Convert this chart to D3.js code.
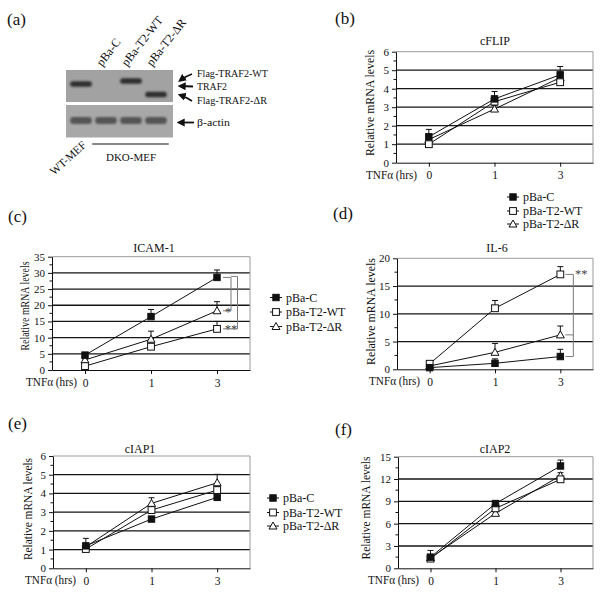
<!DOCTYPE html>
<html><head><meta charset="utf-8">
<script src="https://cdn.jsdelivr.net/npm/d3@7"></script>
<style>
body{margin:0;background:#fff}
svg{display:block}
text{font-family:"Liberation Serif","Times New Roman",serif}
</style>
</head><body>
<svg id="fig" width="604" height="599"></svg>
<script>
// ---------------- DATA ----------------
const times = ["0", "1", "3"];
const seriesNames = ["pBa-C", "pBa-T2-WT", "pBa-T2-ΔR"];
const markerTypes = ["filledSquare", "openSquare", "openTriangle"];

// (b) cFLIP
const cflipC  = [1.4, 3.45, 4.75];
const cflipWT = [1.0, 3.3, 4.35];
const cflipDR = [1.25, 2.9, 4.6];
const cflipErrC  = [0.4, 0.4, 0.45];
const cflipErrWT = [0.1, 0.2, 0.15];
const cflipErrDR = [0.15, 0.2, 0.2];

// (c) ICAM-1
const icamC  = [4.6, 16.5, 28.6];
const icamWT = [1.2, 7.2, 12.7];
const icamDR = [3.1, 9.5, 18.3];
const icamErrC  = [0.5, 2.2, 2.3];
const icamErrWT = [0.3, 0.4, 2.3];
const icamErrDR = [0.3, 2.5, 2.8];

// (d) IL-6
const il6C  = [0.3, 1.08, 2.3];
const il6WT = [1.0, 11.0, 17.1];
const il6DR = [0.6, 3.06, 6.2];
const il6ErrC  = [0.1, 0.8, 1.3];
const il6ErrWT = [0.2, 1.4, 1.4];
const il6ErrDR = [0.1, 1.6, 1.6];

// (e) cIAP1
const ciap1C  = [1.2, 2.63, 3.79];
const ciap1WT = [1.03, 3.11, 4.18];
const ciap1DR = [1.15, 3.47, 4.57];
const ciap1ErrC  = [0.4, 0.08, 0.08];
const ciap1ErrWT = [0.1, 0.3, 0.2];
const ciap1ErrDR = [0.15, 0.3, 0.45];

// (f) cIAP2
const ciap2C  = [1.5, 8.7, 13.75];
const ciap2WT = [1.3, 8.06, 11.96];
const ciap2DR = [1.4, 7.39, 12.45];
const ciap2ErrC  = [0.9, 0.3, 0.8];
const ciap2ErrWT = [0.3, 0.3, 0.3];
const ciap2ErrDR = [0.3, 0.3, 0.4];

// significance brackets (series index pairs at 3 h)
const icamSig = [{from: 0, to: 2, label: "*"}, {from: 0, to: 1, label: "**"}];
const il6Sig  = [{from: 1, to: 0, mid: 2, label: "**"}];

// (a) western blot
const blotLanes = ["WT-MEF", "pBa-C", "pBa-T2-WT", "pBa-T2-ΔR"];
const blotTraf2 = ["TRAF2", null, "Flag-TRAF2-WT", "Flag-TRAF2-ΔR"];
const blotActin = ["β-actin", "β-actin", "β-actin", "β-actin"];
const blotLabels = ["Flag-TRAF2-WT", "TRAF2", "Flag-TRAF2-ΔR", "β-actin"];
const dkoLanes = ["pBa-C", "pBa-T2-WT", "pBa-T2-ΔR"];

// ---------------- DRAW ----------------
const SERIF = '"Liberation Serif","Times New Roman",serif';
const svg = d3.select("#fig");
const defs = svg.append("defs");
defs.append("filter").attr("id", "blur").attr("x", "-30%").attr("y", "-80%").attr("width", "160%").attr("height", "260%")
  .append("feGaussianBlur").attr("stdDeviation", 1.1);
defs.append("marker").attr("id", "ah").attr("viewBox", "0 0 10 10").attr("refX", 7).attr("refY", 5)
  .attr("markerWidth", 4.5).attr("markerHeight", 4.5).attr("orient", "auto")
  .append("path").attr("d", "M0,0L10,5L0,10z").attr("fill", "#111");

function T(sel) { return sel.style("font-family", SERIF).style("fill", "#111"); }

function panelLabel(txt, x, y) {
  T(svg.append("text").attr("x", x).attr("y", y).attr("font-size", 17)).text(txt);
}

function drawMarker(g, type, cx, cy) {
  if (type === "filledSquare") {
    g.append("rect").attr("x", cx - 3.2).attr("y", cy - 3.2).attr("width", 6.4).attr("height", 6.4)
      .attr("fill", "#111").attr("stroke", "#111");
  } else if (type === "openSquare") {
    g.append("rect").attr("x", cx - 3.4).attr("y", cy - 3.4).attr("width", 6.8).attr("height", 6.8)
      .attr("fill", "#fff").attr("stroke", "#111").attr("stroke-width", 1);
  } else {
    g.append("path").attr("d", `M${cx},${cy - 4}L${cx + 4},${cy + 3}L${cx - 4},${cy + 3}Z`)
      .attr("fill", "#fff").attr("stroke", "#111").attr("stroke-width", 1);
  }
}

function drawLegend(lx, ys, fs) {
  const g = svg.append("g");
  seriesNames.forEach((name, i) => {
    g.append("line").attr("x1", lx).attr("x2", lx + 12).attr("y1", ys[i]).attr("y2", ys[i])
      .attr("stroke", "#111").attr("stroke-width", 1);
    drawMarker(g, markerTypes[i], lx + 6, ys[i]);
    T(g.append("text").attr("x", lx + 16).attr("y", ys[i]).attr("dy", "0.35em")
      .attr("font-size", fs)).text(name);
  });
}

function drawPanel(p) {
  const g = svg.append("g");
  const x = d3.scalePoint().domain(times).range([p.left, p.right]).padding(0.5);
  const y = d3.scaleLinear().domain([0, p.ymax]).range([p.bottom, p.top]);
  const ticks = d3.range(0, p.ymax + p.step / 2, p.step);

  g.selectAll(".grid").data(ticks.filter(t => t > 0 && t < p.ymax)).join("line")
    .attr("x1", p.left).attr("x2", p.right)
    .attr("y1", d => y(d)).attr("y2", d => y(d))
    .attr("stroke", "#151515").attr("stroke-width", 1.3);
  g.append("path").attr("d", `M${p.left},${y(p.ymax)}H${p.right}V${p.bottom}`)
    .attr("fill", "none").attr("stroke", "#9a9a9a").attr("stroke-width", 1);

  g.selectAll(".minor").data(d3.range(p.step / 2, p.ymax, p.step)).join("line")
    .attr("x1", p.left - 2.5).attr("x2", p.left).attr("y1", d => y(d)).attr("y2", d => y(d))
    .attr("stroke", "#111");

  const ya = g.append("g").attr("transform", `translate(${p.left},0)`)
    .call(d3.axisLeft(y).tickValues(ticks).tickSize(4).tickSizeOuter(0).tickFormat(d3.format("d")));
  ya.select(".domain").attr("stroke", "#111");
  ya.selectAll(".tick line").attr("stroke", "#111");
  T(ya.selectAll("text").attr("font-size", 11));

  const xa = g.append("g").attr("transform", `translate(0,${p.bottom})`)
    .call(d3.axisBottom(x).tickSize(4).tickSizeOuter(0));
  xa.select(".domain").attr("stroke", "#111");
  xa.selectAll(".tick line").attr("stroke", "#111");
  T(xa.selectAll("text").attr("font-size", 11.5).attr("dy", "0.85em"));

  T(g.append("text").attr("x", p.tnfX).attr("y", p.bottom + 16).attr("font-size", 11.5)
    .attr("textLength", 51).attr("lengthAdjust", "spacingAndGlyphs")).text("TNFα (hrs)");

  T(g.append("text").attr("transform", `translate(${p.ylabX},${p.ylabY}) rotate(-90)`)
    .attr("text-anchor", "middle").attr("font-size", 12.5)
    .attr("textLength", p.ylabLen).attr("lengthAdjust", "spacingAndGlyphs"))
    .text("Relative mRNA levels");

  T(g.append("text").attr("x", p.titleX).attr("y", p.titleY).attr("text-anchor", "middle")
    .attr("font-size", 12)).text(p.title);

  const line = d3.line().x((d, i) => x(times[i])).y(d => y(d));
  p.series.forEach(s => {
    g.append("path").attr("d", line(s)).attr("fill", "none").attr("stroke", "#111").attr("stroke-width", 1);
  });
  p.series.forEach((s, k) => {
    s.forEach((v, i) => {
      const cx = x(times[i]), top = y(v + p.errors[k][i]);
      g.append("line").attr("x1", cx).attr("x2", cx).attr("y1", y(v)).attr("y2", top).attr("stroke", "#111");
      g.append("line").attr("x1", cx - 3).attr("x2", cx + 3).attr("y1", top).attr("y2", top).attr("stroke", "#111");
    });
  });
  [2, 1, 0].forEach(k => {
    p.series[k].forEach((v, i) => drawMarker(g, markerTypes[k], x(times[i]), y(v)));
  });
  return {x, y, g};
}

// ---- panel (a) : western blot ----
panelLabel("(a)", 7, 25);
{
  const g = svg.append("g");
  const lx = d3.scaleBand().domain(blotLanes).range([69, 168]).paddingInner(0.14).paddingOuter(0.05);
  const bandY = d3.scaleOrdinal().domain(blotLabels).range([81, 84, 94.5, 120.5]);
  g.append("rect").attr("x", 66).attr("y", 70).attr("width", 107).attr("height", 32).attr("fill", "#a2a2a2");
  g.append("rect").attr("x", 66).attr("y", 105).attr("width", 107).attr("height", 32.5).attr("fill", "#a8a8a8");
  blotLanes.forEach((lane, i) => {
    if (blotTraf2[i]) {
      g.append("rect").attr("x", lx(lane)).attr("y", bandY(blotTraf2[i]) - 2.8)
        .attr("width", lx.bandwidth()).attr("height", 5.6).attr("rx", 2.5)
        .attr("fill", "#2e2e2e").attr("filter", "url(#blur)");
    }
    g.append("rect").attr("x", lx(lane)).attr("y", bandY(blotActin[i]) - 3.4)
      .attr("width", lx.bandwidth()).attr("height", 6.8).attr("rx", 3)
      .attr("fill", "#555").attr("filter", "url(#blur)");
  });
  dkoLanes.forEach(lane => {
    const cx = lx(lane) + lx.bandwidth() / 2;
    T(g.append("text").attr("transform", `translate(${cx - 4},${67}) rotate(-52)`)
      .attr("font-size", 12)).text(lane);
  });
  T(g.append("text").attr("transform", `translate(${lx("WT-MEF") + lx.bandwidth() / 2 + 6},${146}) rotate(-42)`)
    .attr("text-anchor", "end").attr("font-size", 11.5)).text("WT-MEF");
  const dx0 = lx("pBa-C"), dx1 = lx("pBa-T2-ΔR") + lx.bandwidth();
  g.append("line").attr("x1", dx0 - 3).attr("x2", dx1 + 2).attr("y1", 144).attr("y2", 144).attr("stroke", "#111");
  T(g.append("text").attr("x", (dx0 + dx1) / 2).attr("y", 160.5).attr("text-anchor", "middle")
    .attr("font-size", 11)).text("DKO-MEF");
  const labY = [77, 90, 103.5, 126];
  const labLen = [71, 30, 70, 33];
  blotLabels.forEach((t, i) => {
    T(g.append("text").attr("x", 197).attr("y", labY[i]).attr("font-size", 11)
      .attr("textLength", labLen[i]).attr("lengthAdjust", "spacingAndGlyphs")).text(t);
  });
  const arrows = [
    "M192,74 Q186,76 180,80.5",
    "M193,86.5 L180,86",
    "M192,101 Q186,97 180,95",
    "M194,122.5 L179,122.5"
  ];
  arrows.forEach(d => g.append("path").attr("d", d).attr("fill", "none").attr("stroke", "#111")
    .attr("stroke-width", 1.8).attr("marker-end", "url(#ah)"));
}

// ---- panel (b) cFLIP ----
panelLabel("(b)", 335, 24);
drawPanel({title: "cFLIP", titleX: 495, titleY: 45, left: 396, right: 593, top: 51.7, bottom: 162.7,
  ymax: 6, step: 1, tnfX: 366, ylabX: 374, ylabY: 103, ylabLen: 106,
  series: [cflipC, cflipWT, cflipDR], errors: [cflipErrC, cflipErrWT, cflipErrDR]});
drawLegend(507, [197, 211, 224], 12);

// ---- panel (c) ICAM-1 ----
panelLabel("(c)", 8, 222);
const pc = drawPanel({title: "ICAM-1", titleX: 154, titleY: 251.5, left: 52, right: 250, top: 256.7, bottom: 370,
  ymax: 35, step: 5, tnfX: 26, ylabX: 29, ylabY: 306, ylabLen: 89,
  series: [icamC, icamWT, icamDR], errors: [icamErrC, icamErrWT, icamErrDR]});
drawLegend(270, [297.5, 312, 326.5], 12);
{
  const vals = [icamC[2], icamWT[2], icamDR[2]];
  const x3 = pc.x("3");
  const xs = [x3 + 6, x3 + 14, x3 + 20.5];
  icamSig.forEach((s, i) => {
    const xv = xs[i + 1];
    const y1 = pc.y(vals[s.from]) - i, y2 = pc.y(vals[s.to]);
    pc.g.append("path").attr("d", `M${xs[0] + (i ? 8 : 0)},${y1}H${xv}V${y2}H${xs[0]}`)
      .attr("fill", "none").attr("stroke", "#7a7a7a").attr("stroke-width", 1);
    pc.g.append("text").attr("x", i ? x3 + 14 : x3 + 11).attr("y", y2 + (i ? 4 : 5)).attr("text-anchor", "middle")
      .attr("font-size", 12.5).style("font-family", SERIF).style("fill", "#444").text(s.label);
  });
}

// ---- panel (d) IL-6 ----
panelLabel("(d)", 333, 219);
const pd = drawPanel({title: "IL-6", titleX: 497, titleY: 252, left: 397, right: 593, top: 258.3, bottom: 369.3,
  ymax: 20, step: 5, tnfX: 369, ylabX: 375, ylabY: 311.5, ylabLen: 107,
  series: [il6C, il6WT, il6DR], errors: [il6ErrC, il6ErrWT, il6ErrDR]});
{
  const vals = [il6C[2], il6WT[2], il6DR[2]];
  const x3 = pd.x("3");
  il6Sig.forEach(s => {
    const xa = x3 + 5, xb = x3 + 13;
    const y1 = pd.y(vals[s.from]), y2 = pd.y(vals[s.to]), ym = pd.y(vals[s.mid]);
    pd.g.append("path").attr("d", `M${xa},${y1}H${xb}V${y2}H${xa}M${xa},${ym}H${xb}`)
      .attr("fill", "none").attr("stroke", "#7a7a7a").attr("stroke-width", 1);
    pd.g.append("text").attr("x", xb + 8).attr("y", y1 + 4).attr("text-anchor", "middle")
      .attr("font-size", 12.5).style("font-family", SERIF).style("fill", "#444").text(s.label);
  });
}

// ---- panel (e) cIAP1 ----
panelLabel("(e)", 8, 429);
drawPanel({title: "cIAP1", titleX: 140, titleY: 453, left: 53, right: 250, top: 456, bottom: 568.3,
  ymax: 6, step: 1, tnfX: 25, ylabX: 32, ylabY: 509, ylabLen: 102,
  series: [ciap1C, ciap1WT, ciap1DR], errors: [ciap1ErrC, ciap1ErrWT, ciap1ErrDR]});
drawLegend(267, [498, 512.5, 526], 12);

// ---- panel (f) cIAP2 ----
panelLabel("(f)", 335, 435);
drawPanel({title: "cIAP2", titleX: 495, titleY: 453, left: 398, right: 593, top: 456.7, bottom: 568.3,
  ymax: 15, step: 3, tnfX: 368, ylabX: 370, ylabY: 508, ylabLen: 103,
  series: [ciap2C, ciap2WT, ciap2DR], errors: [ciap2ErrC, ciap2ErrWT, ciap2ErrDR]});
</script>
</body></html>
